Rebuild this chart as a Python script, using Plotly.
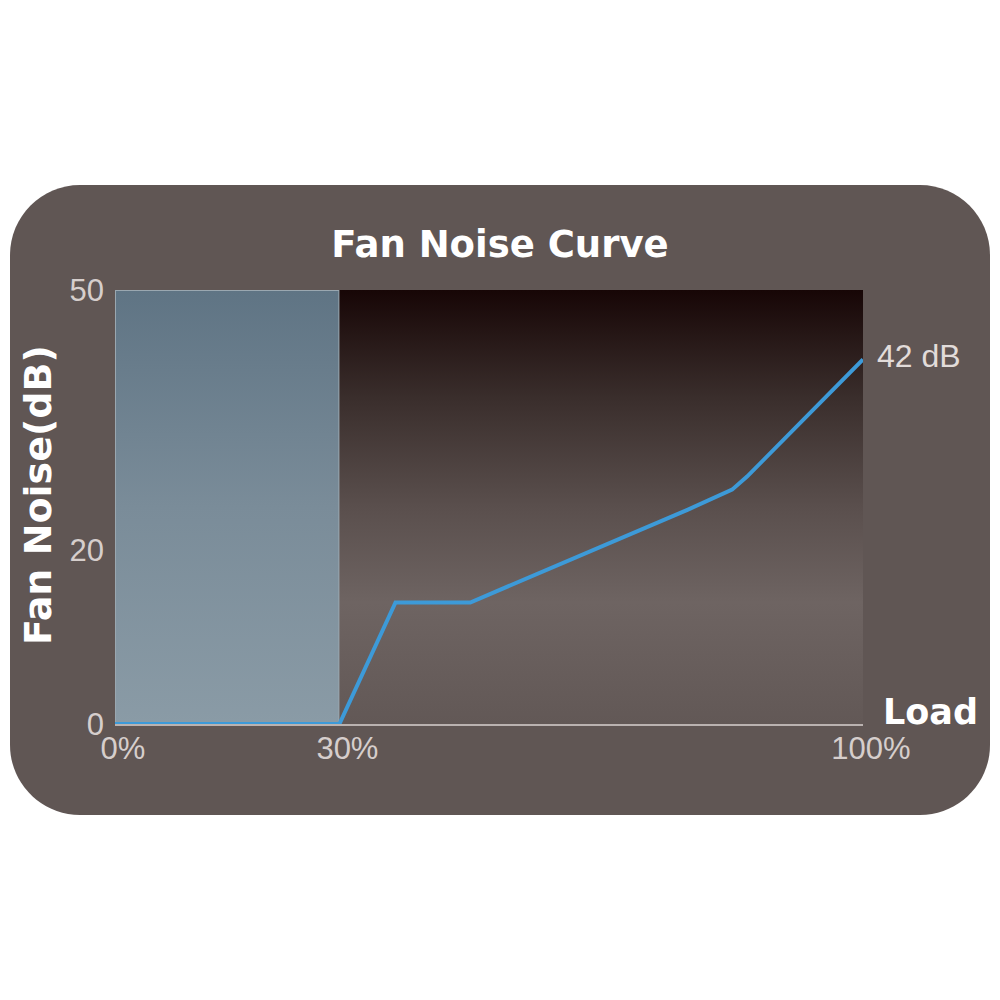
import plotly.graph_objects as go

# ---- data ----
load_pct = [0, 30, 37.5, 47.5, 76.6, 82.5, 84.5, 100]
noise_db = [0, 0, 14.0, 14.0, 24.7, 27.0, 28.5, 42]
x_ticks = [0, 30, 100]
x_tick_text = ["0%", "30%", "100%"]
y_ticks = [0, 20, 50]
y_tick_text = ["0", "20", "50"]
quiet_end = 30
x_max = 100
y_max = 50
end_label = "42 dB"

OFF = 8  # page body margin
W, H = 1000 - OFF, 1000 - OFF
ML, MT = 115 - OFF, 290 - OFF
PW, PH = 748, 434
MR, MB = W - ML - PW, H - MT - PH

def px2paper(px, py):
    # px, py are screen pixel positions
    return (px - OFF - ML) / PW, (MT + PH - (py - OFF)) / PH

# rounded card path (decoration), in paper coords
cx0, cy0, cx1, cy1, r = 10, 185, 990, 815, 70
def P(px, py):
    x, y = px2paper(px, py)
    return f"{x:.5f},{y:.5f}"
k = 0.45
path = (
    f"M {P(cx0 + r, cy0)} L {P(cx1 - r, cy0)} "
    f"C {P(cx1 - r * k, cy0)} {P(cx1, cy0 + r * k)} {P(cx1, cy0 + r)} "
    f"L {P(cx1, cy1 - r)} "
    f"C {P(cx1, cy1 - r * k)} {P(cx1 - r * k, cy1)} {P(cx1 - r, cy1)} "
    f"L {P(cx0 + r, cy1)} "
    f"C {P(cx0 + r * k, cy1)} {P(cx0, cy1 - r * k)} {P(cx0, cy1 - r)} "
    f"L {P(cx0, cy0 + r)} "
    f"C {P(cx0, cy0 + r * k)} {P(cx0 + r * k, cy0)} {P(cx0 + r, cy0)} Z"
)

card = "#605654"
tick_col = "#d6cecc"

fig = go.Figure()

# quiet (0 dB) zone
fig.add_trace(go.Scatter(
    x=[0, quiet_end, quiet_end, 0, 0], y=[0, 0, y_max, y_max, 0],
    mode="lines", fill="toself",
    line=dict(color="#9aa7b0", width=2),
    fillgradient=dict(type="vertical",
                      colorscale=[[0, "#8a9ba6"], [0.5, "#7a8c99"], [1, "#5f7484"]]),
    hoverinfo="skip", showlegend=False))

# active zone
fig.add_trace(go.Scatter(
    x=[quiet_end, x_max, x_max, quiet_end, quiet_end], y=[0, 0, y_max, y_max, 0],
    mode="lines", fill="toself",
    line=dict(width=0, color="rgba(0,0,0,0)"),
    fillgradient=dict(type="vertical",
                      colorscale=[[0, "#625856"], [0.28, "#6e6462"], [0.5, "#5a4f4d"],
                                  [0.75, "#3a2e2c"], [1, "#170606"]]),
    hoverinfo="skip", showlegend=False))

# noise curve
fig.add_trace(go.Scatter(
    x=load_pct, y=noise_db, mode="lines",
    line=dict(color="#3d9ad8", width=4),
    cliponaxis=False, showlegend=False))

fig.update_layout(
    width=W, height=H,
    margin=dict(l=ML, r=MR, t=MT, b=MB, autoexpand=False),
    paper_bgcolor="white", plot_bgcolor="rgba(0,0,0,0)",
    shapes=[dict(type="path", path=path, xref="paper", yref="paper",
                 fillcolor=card, line=dict(width=0), layer="below")],
    title=dict(text="<b>Fan Noise Curve</b>", x=px2paper(500, 0)[0], xref="paper",
               xanchor="center",
               y=1 - (244 - OFF) / H, yref="container", yanchor="middle",
               font=dict(family="DejaVu Sans", size=37, color="white")),
    xaxis=dict(range=[0, x_max], tickvals=x_ticks, ticktext=x_tick_text,
               anchor="free", position=0,
               showgrid=False, zeroline=False, showline=False,
               ticks="", ticklabelshift=8, ticklabelstandoff=3,
               tickfont=dict(family="Liberation Sans", size=31, color=tick_col)),
    yaxis=dict(range=[0, y_max], tickvals=y_ticks, ticktext=y_tick_text,
               showgrid=False, zeroline=True, zerolinecolor="#bab2b0", zerolinewidth=3,
               layer="below traces", showline=False, ticks="",
               ticklabelstandoff=10,
               tickfont=dict(family="Liberation Sans", size=31, color=tick_col)),
    annotations=[
        dict(text="<b>Fan Noise(dB)</b>", textangle=-90, xref="paper", yref="paper",
             x=px2paper(38, 0)[0], y=px2paper(0, 495)[1], showarrow=False,
             xanchor="center", yanchor="middle",
             font=dict(family="DejaVu Sans", size=38, color="white")),
        dict(text="<b>Load</b>", xref="paper", yref="paper",
             x=px2paper(931, 0)[0], y=px2paper(0, 712)[1], showarrow=False,
             xanchor="center", yanchor="middle",
             font=dict(family="DejaVu Sans", size=35, color="white")),
        dict(text=end_label, x=load_pct[-1], y=noise_db[-1], xref="x", yref="y",
             showarrow=False, xanchor="left", yanchor="middle", xshift=12, yshift=3,
             font=dict(family="Liberation Sans", size=32, color="#e2dcda")),
    ],
)

fig.write_html("out.html")
